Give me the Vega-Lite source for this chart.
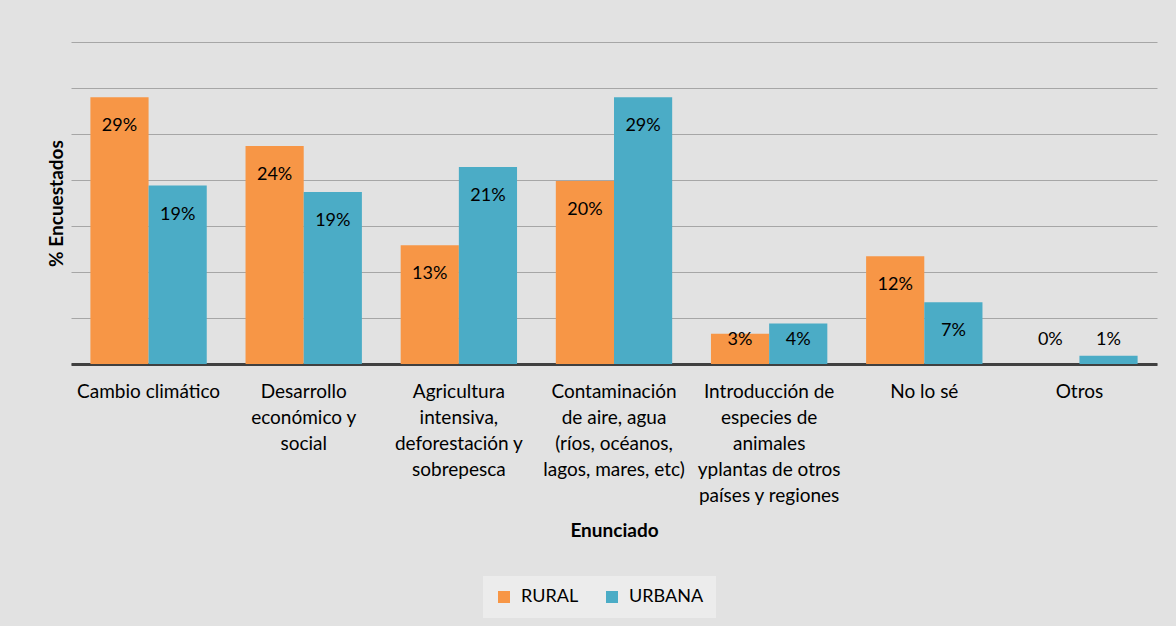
{
  "$schema": "https://vega.github.io/schema/vega-lite/v6.json",
  "width": 1086,
  "height": 322,
  "autosize": {"type": "none"},
  "padding": {"left": 71, "top": 42, "right": 19, "bottom": 262},
  "background": "#e2e2e2",
  "config": {
    "font": "Lato",
    "view": {"stroke": null},
    "axis": {"labelFont": "Lato", "titleFont": "Lato"}
  },
  "data": {
    "values": [
      {"enunciado": "Cambio climático", "zona": "RURAL", "v": 0.290},
      {"enunciado": "Cambio climático", "zona": "URBANA", "v": 0.194},
      {"enunciado": "Desarrollo\neconómico y\nsocial", "zona": "RURAL", "v": 0.237},
      {"enunciado": "Desarrollo\neconómico y\nsocial", "zona": "URBANA", "v": 0.187},
      {"enunciado": "Agricultura\nintensiva,\ndeforestación y\nsobrepesca", "zona": "RURAL", "v": 0.129},
      {"enunciado": "Agricultura\nintensiva,\ndeforestación y\nsobrepesca", "zona": "URBANA", "v": 0.214},
      {"enunciado": "Contaminación\nde aire, agua\n(ríos, océanos,\nlagos, mares, etc)", "zona": "RURAL", "v": 0.199},
      {"enunciado": "Contaminación\nde aire, agua\n(ríos, océanos,\nlagos, mares, etc)", "zona": "URBANA", "v": 0.290},
      {"enunciado": "Introducción de\nespecies de\nanimales\nyplantas de otros\npaíses y regiones", "zona": "RURAL", "v": 0.033},
      {"enunciado": "Introducción de\nespecies de\nanimales\nyplantas de otros\npaíses y regiones", "zona": "URBANA", "v": 0.044},
      {"enunciado": "No lo sé", "zona": "RURAL", "v": 0.117},
      {"enunciado": "No lo sé", "zona": "URBANA", "v": 0.067},
      {"enunciado": "Otros", "zona": "RURAL", "v": 0.0},
      {"enunciado": "Otros", "zona": "URBANA", "v": 0.009}
    ]
  },
  "encoding": {
    "x": {
      "field": "enunciado",
      "type": "nominal",
      "sort": null,
      "scale": {"paddingInner": 0.25, "paddingOuter": 0.125},
      "axis": {
        "title": "Enunciado",
        "titleFontSize": 19,
        "titleFontWeight": "bold",
        "titleColor": "#000000",
        "titlePadding": 16,
        "labelAngle": 0,
        "labelFontSize": 19,
        "labelColor": "#000000",
        "labelLineHeight": 26,
        "labelPadding": 18,
        "labelLimit": 0,
        "labelOverlap": false,
        "labelExpr": "split(datum.label, '\\n')",
        "ticks": false,
        "domainColor": "#404040",
        "domainWidth": 3,
        "grid": false
      }
    },
    "xOffset": {"field": "zona", "type": "nominal"},
    "y": {
      "field": "v",
      "type": "quantitative",
      "scale": {"domain": [0, 0.35], "nice": false},
      "axis": {
        "title": "% Encuestados",
        "titleFontSize": 19,
        "titleFontWeight": "bold",
        "titleColor": "#000000",
        "titlePadding": 5,
        "values": [0, 0.05, 0.1, 0.15, 0.2, 0.25, 0.3, 0.35],
        "labels": false,
        "ticks": false,
        "domain": false,
        "grid": true,
        "gridColor": "#a6a6a6",
        "gridWidth": 1
      }
    }
  },
  "layer": [
    {
      "mark": {"type": "bar"},
      "encoding": {
        "color": {
          "field": "zona",
          "type": "nominal",
          "scale": {"domain": ["RURAL", "URBANA"], "range": ["#F79646", "#4BACC6"]},
          "legend": {
            "title": null,
            "orient": "none",
            "legendX": 412,
            "legendY": 534,
            "direction": "horizontal",
            "symbolType": "square",
            "symbolSize": 144,
            "symbolStrokeWidth": 0,
            "labelFontSize": 18,
            "labelColor": "#000000",
            "labelOffset": 8,
            "columnPadding": 24,
            "padding": 12,
            "fillColor": "#ececec"
          }
        }
      }
    },
    {
      "transform": [{"filter": "datum.v >= 0.05"}],
      "mark": {"type": "text", "dy": 29, "baseline": "middle", "fontSize": 18, "color": "#000000"},
      "encoding": {"text": {"field": "v", "type": "quantitative", "format": ".0%"}}
    },
    {
      "transform": [{"filter": "datum.v < 0.05"}],
      "mark": {"type": "text", "dy": -24, "baseline": "middle", "fontSize": 18, "color": "#000000"},
      "encoding": {
        "y": {"datum": 0, "type": "quantitative"},
        "text": {"field": "v", "type": "quantitative", "format": ".0%"}
      }
    }
  ]
}
